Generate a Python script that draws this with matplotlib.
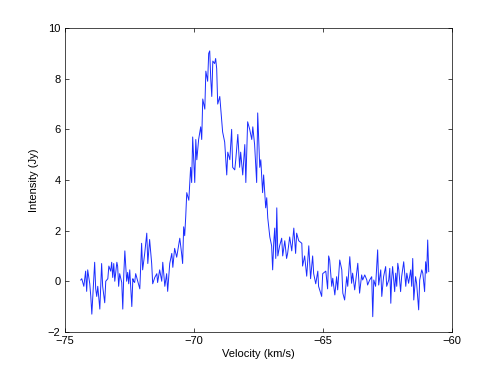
import matplotlib
matplotlib.use("Agg")
from matplotlib import pyplot as plt

plt.rcParams['font.family'] = ['Liberation Sans', 'DejaVu Sans']

# spectrum
velocity = [
    -74.38, -74.34, -74.26, -74.19, -74.15, -74.11, -74.03, -73.99, -73.95, -73.88,
    -73.84, -73.80, -73.76, -73.72, -73.64, -73.57, -73.53, -73.45, -73.41, -73.33,
    -73.29, -73.22, -73.18, -73.14, -73.10, -73.06, -72.98, -72.95, -72.91, -72.87,
    -72.79, -72.75, -72.71, -72.67, -72.60, -72.56, -72.52, -72.48, -72.40, -72.36,
    -72.33, -72.29, -72.25, -72.17, -72.09, -72.02, -71.98, -71.90, -71.82, -71.78,
    -71.71, -71.63, -71.59, -71.51, -71.43, -71.40, -71.32, -71.24, -71.20, -71.12,
    -71.05, -71.01, -70.93, -70.85, -70.81, -70.74, -70.66, -70.62, -70.54, -70.47,
    -70.43, -70.39, -70.35, -70.31, -70.27, -70.19, -70.12, -70.08, -70.04, -69.96,
    -69.92, -69.88, -69.81, -69.73, -69.69, -69.65, -69.57, -69.53, -69.46, -69.42,
    -69.38, -69.34, -69.30, -69.26, -69.19, -69.15, -69.11, -69.07, -68.99, -68.91,
    -68.88, -68.80, -68.72, -68.68, -68.60, -68.53, -68.49, -68.41, -68.37, -68.29,
    -68.22, -68.18, -68.10, -68.02, -67.98, -67.91, -67.83, -67.75, -67.71, -67.64,
    -67.56, -67.52, -67.44, -67.40, -67.33, -67.29, -67.21, -67.17, -67.13, -67.05,
    -66.98, -66.94, -66.90, -66.86, -66.82, -66.78, -66.74, -66.67, -66.59, -66.55,
    -66.47, -66.40, -66.36, -66.28, -66.20, -66.12, -66.05, -66.01, -65.93, -65.81,
    -65.78, -65.70, -65.62, -65.54, -65.47, -65.39, -65.35, -65.27, -65.19, -65.16,
    -65.04, -65.00, -64.88, -64.81, -64.77, -64.73, -64.65, -64.61, -64.53, -64.46,
    -64.42, -64.34, -64.26, -64.22, -64.15, -64.07, -64.03, -63.95, -63.88, -63.84,
    -63.76, -63.68, -63.64, -63.57, -63.49, -63.45, -63.37, -63.29, -63.26, -63.18,
    -63.10, -63.06, -63.02, -62.95, -62.87, -62.83, -62.75, -62.71, -62.64, -62.56,
    -62.52, -62.44, -62.40, -62.36, -62.33, -62.29, -62.21, -62.17, -62.13, -62.09,
    -62.05, -61.98, -61.94, -61.86, -61.78, -61.74, -61.67, -61.59, -61.55, -61.51,
    -61.47, -61.40, -61.36, -61.28, -61.24, -61.16, -61.12, -61.05, -61.01, -60.97,
    -60.93, -60.89,
]
intensity = [
    0.05, 0.1, -0.2, 0.4, -0.4, 0.45, -0.1, -0.6, -1.3, 0.0,
    0.75, -0.3, -0.6, -0.2, -1.1, 0.7, -0.2, -0.85, 0.0, 0.1,
    0.6, 0.4, 0.75, 0.15, 0.7, 0.0, 0.75, 0.6, -0.2, 0.3,
    -0.05, -1.1, 0.3, 1.2, 0.0, 0.35, -0.1, 0.45, -1.0, 0.1,
    0.0, -0.05, 0.3, 0.0, -0.3, 1.5, 0.45, 1.1, 1.9, 0.7,
    1.65, 0.7, -0.1, 0.15, 0.3, -0.05, 0.45, 0.0, 0.75, -0.2,
    0.3, -0.4, 0.7, 1.1, 0.55, 1.3, 0.95, 1.2, 1.7, 1.1,
    0.7, 2.15, 1.8, 2.55, 3.5, 3.2, 4.5, 3.9, 5.7, 3.9,
    5.6, 4.8, 5.6, 6.1, 5.6, 7.2, 6.8, 8.3, 7.9, 9.0,
    9.1, 8.0, 7.3, 8.7, 8.6, 8.8, 8.4, 7.0, 7.3, 6.3,
    5.9, 5.5, 4.2, 5.1, 4.8, 6.0, 4.5, 4.4, 4.8, 5.8,
    4.5, 5.1, 4.2, 5.4, 3.9, 6.3, 6.0, 5.6, 6.1, 5.4,
    3.9, 6.65, 4.5, 4.8, 3.5, 4.2, 2.9, 3.3, 2.5, 1.75,
    1.4, 0.45, 1.5, 2.1, 0.9, 2.9, 1.0, 1.4, 1.7, 1.0,
    1.6, 0.9, 1.1, 1.75, 1.2, 2.1, 1.1, 1.9, 1.6, 1.5,
    0.6, 1.0, 0.2, 1.4, 0.1, 1.0, 0.3, -0.1, 0.4, -0.2,
    -0.6, 0.3, 0.4, -0.3, 1.0, 0.84, -0.2, 0.12, -0.54, 0.18,
    -0.34, 0.84, 0.45, -0.47, -0.74, 0.18, -0.2, 0.97, -0.08, 0.32,
    -0.34, 0.38, 0.71, -0.47, 0.25, 0.05, 0.25, 0.05, -0.15, 0.05,
    0.18, -1.4, 0.05, -0.2, 1.24, -0.15, 0.45, -0.6, 0.18, 0.58,
    -0.2, 0.05, 0.51, -0.87, 0.05, 0.58, -0.41, 0.32, -0.2, 0.71,
    0.45, -0.41, 0.18, 0.77, -0.2, 0.32, -0.08, 0.45, -0.2, 0.9,
    -0.74, 0.18, -0.08, -1.13, 0.05, 0.45, 0.32, -0.41, 0.77, 0.32,
    1.63, 0.38,
]
x_ticks = [-75, -70, -65, -60]
y_ticks = [-2, 0, 2, 4, 6, 8, 10]

fig = plt.figure(figsize=(4.98, 3.75), dpi=100)
ax = fig.add_axes([0.13, 0.115, 0.777, 0.81])
ax.plot(velocity, intensity, color='#1a2cff', linewidth=0.7)

ax.set_xlim(-75, -60)
ax.set_ylim(-2, 10)
ax.set_xticks(x_ticks)
ax.set_yticks(y_ticks)
ax.tick_params(direction='in', top=True, right=True, labelsize=8,
               length=3, width=0.5, pad=3)
for spine in ax.spines.values():
    spine.set_linewidth(0.5)
ax.set_xlabel('Velocity (km/s)', fontsize=8, labelpad=2)
ax.set_ylabel('Intensity (Jy)', fontsize=8, labelpad=6)

fig.savefig('out.png', dpi=100)
